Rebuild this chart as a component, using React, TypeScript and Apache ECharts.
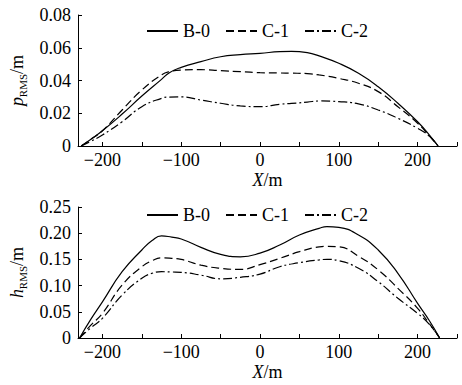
import React, { useEffect, useRef } from "react";
import * as echarts from "echarts";

const SERIES_NAMES = ["B-0", "C-1", "C-2"];

const X_TOP = [-227, -215, -200, -175, -150, -125, -115, -100, -75, -50, -25, 0, 25, 40, 60, 75, 100, 125, 150, 175, 200, 215, 226];
const P_B0 = [0, 0.004, 0.0093, 0.0195, 0.0305, 0.0407, 0.0448, 0.048, 0.0515, 0.0545, 0.0558, 0.0566, 0.0576, 0.0578, 0.057, 0.055, 0.0505, 0.0444, 0.0362, 0.0261, 0.0148, 0.0067, 0];
const P_C1 = [0, 0.004, 0.0093, 0.022, 0.0342, 0.0434, 0.0454, 0.0464, 0.0466, 0.046, 0.0454, 0.0448, 0.0446, 0.0445, 0.0442, 0.0434, 0.0413, 0.0383, 0.0332, 0.024, 0.0139, 0.0061, 0];
const P_C2 = [0, 0.0028, 0.0067, 0.0148, 0.024, 0.0291, 0.0299, 0.03, 0.0281, 0.0261, 0.0245, 0.024, 0.0255, 0.026, 0.0268, 0.0275, 0.0271, 0.0257, 0.022, 0.0169, 0.0108, 0.006, 0];

const X_BOT = [-229, -215, -200, -175, -150, -137, -125, -112, -100, -75, -50, -25, 0, 25, 50, 75, 85, 100, 125, 150, 175, 200, 215, 228];
const H_B0 = [0, 0.035, 0.069, 0.1265, 0.168, 0.186, 0.195, 0.1925, 0.189, 0.173, 0.1597, 0.155, 0.162, 0.1775, 0.1966, 0.2093, 0.2125, 0.211, 0.1966, 0.168, 0.1235, 0.066, 0.033, 0];
const H_C1 = [0, 0.024, 0.047, 0.101, 0.136, 0.1475, 0.153, 0.152, 0.15, 0.139, 0.133, 0.131, 0.14, 0.152, 0.1647, 0.174, 0.175, 0.174, 0.156, 0.13, 0.0948, 0.0567, 0.027, 0];
const H_C2 = [0, 0.019, 0.0376, 0.082, 0.114, 0.1235, 0.1265, 0.126, 0.1253, 0.12, 0.113, 0.1158, 0.122, 0.136, 0.1437, 0.149, 0.15, 0.1475, 0.133, 0.1075, 0.0758, 0.047, 0.026, 0];

const X_TICKS = [-200, -150, -100, -50, 0, 50, 100, 150, 200, 250];
const X_LABELS = [-200, -100, 0, 100, 200];

const FONT = "'Liberation Serif', 'Times New Roman', serif";
const DASHES: any[] = ["solid", [8, 4], [9, 3, 2, 3]];

function zip(xs: number[], ys: number[]) {
  return xs.map((x, i) => [x, ys[i]]);
}

export default function App() {
  const ref = useRef<HTMLDivElement>(null);
  useEffect(() => {
    if (!ref.current) return;
    const chart = echarts.init(ref.current, undefined, { renderer: "svg" });
    const axisLine = { lineStyle: { color: "#000", width: 1 } };
    const xAxisBase = (gridIndex: number) => ({
      type: "value",
      gridIndex,
      min: -231,
      max: 250,
      axisLine: { ...axisLine, onZero: false },
      axisTick: { inside: true, length: 4, customValues: X_TICKS, lineStyle: { color: "#000" } },
      axisLabel: {
        customValues: X_LABELS,
        color: "#000",
        fontFamily: FONT,
        fontSize: 18,
        margin: 5,
        formatter: (v: number) => (v < 0 ? "\u2212" + Math.abs(v) : String(v)),
      },
      splitLine: { show: false },
      name: "{i|X}{n|/m}",
      nameLocation: "middle",
      nameGap: 25,
      nameTextStyle: {
        rich: {
          i: { fontFamily: FONT, fontSize: 18, fontStyle: "italic", color: "#000" },
          n: { fontFamily: FONT, fontSize: 18, color: "#000" },
        },
      },
    });
    const yAxisBase = (gridIndex: number, max: number, interval: number, letter: string) => ({
      type: "value",
      gridIndex,
      min: 0,
      max,
      interval,
      axisLine: { show: true, onZero: false, ...axisLine },
      axisTick: { show: true, inside: true, length: 4, lineStyle: { color: "#000" } },
      axisLabel: {
        color: "#000",
        fontFamily: FONT,
        fontSize: 18,
        margin: 7,
        formatter: (v: number) => (v === 0 ? "0" : v.toFixed(2)),
      },
      splitLine: { show: false },
      name: `{i|${letter}}{s|RMS}{n|/m}`,
      nameLocation: "middle",
      nameRotate: 90,
      nameGap: 50,
      nameTextStyle: {
        rich: {
          i: { fontFamily: FONT, fontSize: 18, fontStyle: "italic", color: "#000", lineHeight: 22, verticalAlign: "middle" },
          s: { fontFamily: FONT, fontSize: 11, color: "#000", verticalAlign: "bottom", lineHeight: 12 },
          n: { fontFamily: FONT, fontSize: 18, color: "#000", lineHeight: 22, verticalAlign: "middle" },
        },
      },
    });
    const topData = [P_B0, P_C1, P_C2];
    const botData = [H_B0, H_C1, H_C2];
    const series: any[] = [];
    SERIES_NAMES.forEach((name, i) => {
      series.push({
        type: "line",
        name,
        xAxisIndex: 0,
        yAxisIndex: 0,
        data: zip(X_TOP, topData[i]),
        smooth: 0.5,
        symbol: "none",
        lineStyle: { color: "#000", width: 1.2, type: DASHES[i] },
        itemStyle: { color: "#000" },
      });
      series.push({
        type: "line",
        name,
        xAxisIndex: 1,
        yAxisIndex: 1,
        data: zip(X_BOT, botData[i]),
        smooth: 0.5,
        symbol: "none",
        lineStyle: { color: "#000", width: 1.2, type: DASHES[i] },
        itemStyle: { color: "#000" },
      });
    });
    const legendBase = (top: number) => ({
      top,
      left: 141,
      orient: "horizontal",
      itemWidth: 31,
      itemHeight: 10,
      itemGap: 15,
      data: SERIES_NAMES,
      selectedMode: false,
      itemStyle: { opacity: 0 },
      textStyle: { fontFamily: FONT, fontSize: 18, color: "#000" },
    });
    chart.setOption({
      animation: false,
      backgroundColor: "#fff",
      textStyle: { fontFamily: FONT },
      grid: [
        { left: 70, top: 15, width: 387, height: 131 },
        { left: 70, top: 207, width: 387, height: 131 },
      ],
      legend: [legendBase(17), legendBase(201)],
      xAxis: [xAxisBase(0), xAxisBase(1)],
      yAxis: [yAxisBase(0, 0.08, 0.02, "p"), yAxisBase(1, 0.25, 0.05, "h")],
      series,
    });
    return () => chart.dispose();
  }, []);
  return (
    <div
      ref={ref}
      style={{ position: "fixed", left: 0, top: 0, width: 462, height: 385, background: "#fff" }}
    />
  );
}
